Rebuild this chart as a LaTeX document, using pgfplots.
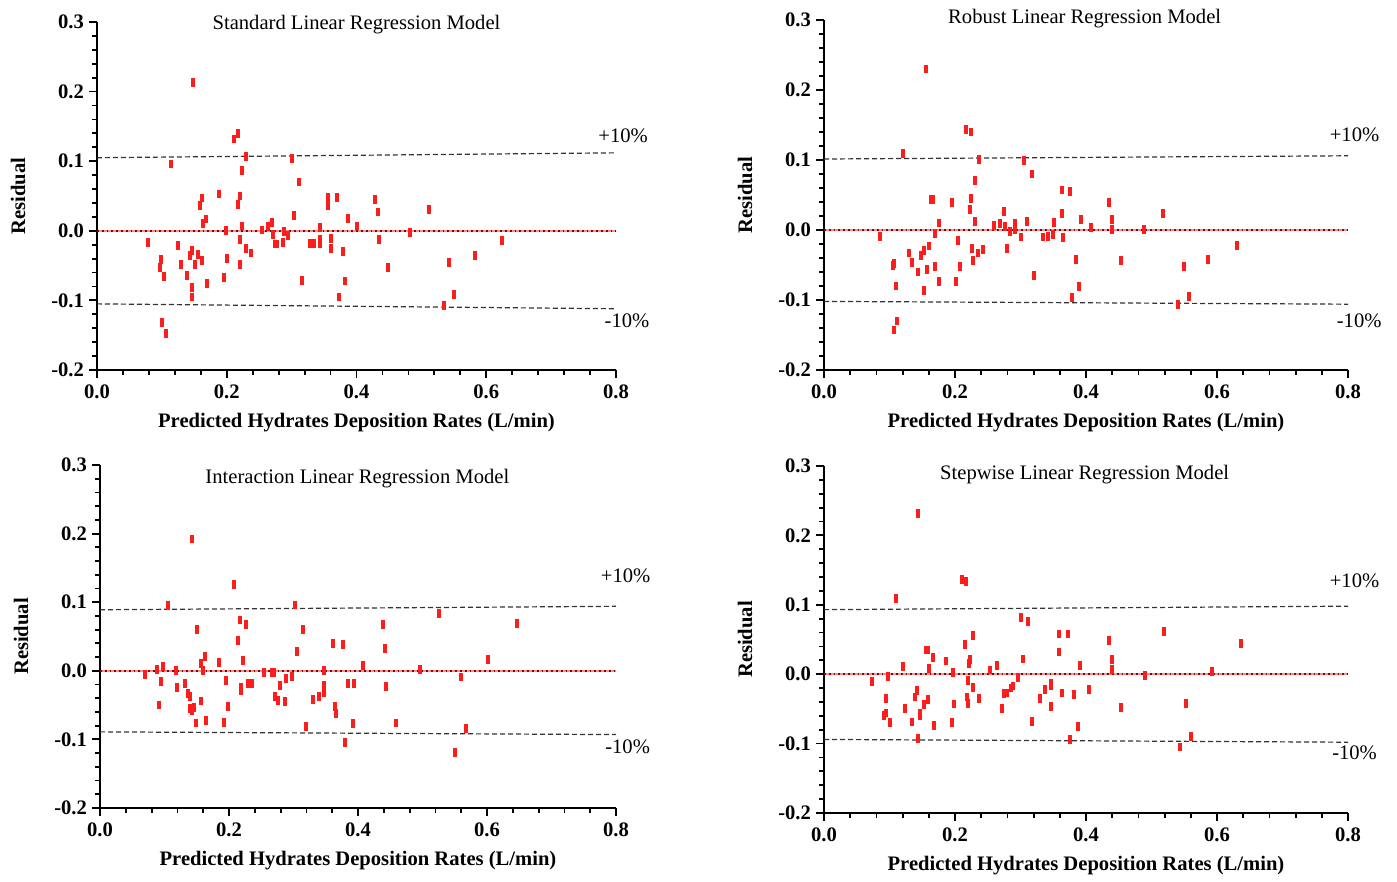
\documentclass[border=0pt]{standalone}
\usepackage{fontspec}
\setmainfont{Liberation Serif}
\usepackage{pgfplots}
\pgfplotsset{compat=1.18}
\definecolor{ptred}{RGB}{255,28,28}
\newcommand{\lab}{\fontsize{10.3}{12}\selectfont}
\pgfplotsset{
  resid/.style={
    scale only axis,
    xmin=0, xmax=0.8, ymin=-0.2, ymax=0.3,
    axis x line*=bottom, axis y line*=left,
    axis line style={line width=1pt, black},
    tick align=outside,
    major tick length=4pt, minor tick length=2.5pt,
    every tick/.style={black, line width=0.9pt},
    xtick={0,0.2,0.4,0.6,0.8},
    xticklabels={0.0,0.2,0.4,0.6,0.8},
    ytick={-0.2,-0.1,0,0.1,0.2,0.3},
    yticklabels={-0.2,-0.1,0.0,0.1,0.2,0.3},
    minor x tick num=4, minor y tick num=4,
    tick label style={font=\bfseries\lab},
    yticklabel style={xshift=1pt},
    xlabel={Predicted Hydrates Deposition Rates (L/min)},
    ylabel={Residual},
    every axis x label/.style={at={(axis description cs:0.5,0)}, yshift=-26.5pt, anchor=center, font=\bfseries\lab},
    every axis y label/.style={at={(axis description cs:0,0.5)}, xshift=-39.5pt, rotate=90, anchor=center, font=\bfseries\lab},
    clip=false,
  },
  pts/.style={only marks, mark=|, mark size=2.2pt, mark options={line width=2pt, ptred}},
  band/.style={black!80, line width=0.6pt, dash pattern=on 2.5pt off 1.5pt},
}
\newcommand{\zeroline}{%
  \addplot[red!45, line width=0.8pt] coordinates {(0,0) (0.8,0)};
  \addplot[red!55!black, line width=1pt, dash pattern=on 0.9pt off 1.5pt] coordinates {(0,0) (0.8,0)};
}
\begin{document}
\begin{tikzpicture}
\path[use as bounding box] (0,0) rectangle (698.5pt,441pt);

% ---------- Panel 1 ----------
\begin{axis}[resid, at={(48.5pt,256pt)}, anchor=south west, width=259.5pt, height=174pt]
\addplot[band] coordinates {(0,0.105) (0.8,0.112)};
\addplot[band] coordinates {(0,-0.105) (0.8,-0.112)};
\zeroline
\addplot[pts] table {
x y
0.078 -0.017
0.098 -0.041
0.097 -0.053
0.104 -0.066
0.100 -0.132
0.107 -0.147
0.114 0.096
0.125 -0.021
0.129 -0.048
0.139 -0.064
0.143 -0.036
0.147 -0.028
0.148 0.213
0.147 -0.082
0.147 -0.095
0.151 -0.048
0.155 -0.034
0.158 0.036
0.162 0.047
0.162 -0.043
0.164 0.010
0.168 0.017
0.170 -0.076
0.188 0.053
0.196 -0.067
0.199 0.000
0.201 -0.040
0.211 0.132
0.218 0.140
0.217 0.038
0.220 0.050
0.221 -0.012
0.221 -0.048
0.224 0.087
0.224 0.007
0.229 0.107
0.229 -0.026
0.238 -0.032
0.254 0.001
0.263 0.006
0.270 0.012
0.272 -0.005
0.275 -0.019
0.278 -0.019
0.286 -0.017
0.288 -0.001
0.295 -0.007
0.300 0.104
0.303 0.022
0.311 0.070
0.316 -0.071
0.328 -0.018
0.335 -0.018
0.343 -0.013
0.343 0.005
0.343 -0.018
0.356 0.048
0.356 0.036
0.360 -0.011
0.360 -0.025
0.370 0.048
0.373 -0.095
0.379 -0.030
0.383 -0.072
0.387 0.018
0.400 0.007
0.429 0.045
0.433 0.027
0.434 -0.012
0.448 -0.053
0.483 -0.003
0.511 0.031
0.535 -0.107
0.543 -0.045
0.551 -0.091
0.582 -0.036
0.624 -0.014
};
\node[font=\lab] at (axis cs:0.40,0.296) {Standard Linear Regression Model};
\node[font=\lab] at (axis cs:0.811,0.137) {+10\%};
\node[font=\lab] at (axis cs:0.817,-0.130) {-10\%};
\end{axis}

% ---------- Panel 2 ----------
\begin{axis}[resid, at={(412pt,256pt)}, anchor=south west, width=262pt, height=175pt]
\addplot[band] coordinates {(0,0.1014) (0.8,0.106)};
\addplot[band] coordinates {(0,-0.102) (0.8,-0.106)};
\zeroline
\addplot[pts] table {
x y
0.085 -0.009
0.105 -0.051
0.107 -0.048
0.110 -0.080
0.107 -0.143
0.112 -0.130
0.121 0.109
0.130 -0.033
0.134 -0.047
0.144 -0.060
0.148 -0.036
0.152 -0.029
0.153 -0.087
0.155 0.230
0.157 -0.056
0.161 -0.023
0.163 0.043
0.167 0.043
0.169 -0.052
0.169 -0.005
0.176 0.010
0.176 -0.074
0.195 0.039
0.202 -0.074
0.205 -0.015
0.207 -0.052
0.217 0.143
0.224 0.140
0.223 0.029
0.225 0.045
0.226 -0.026
0.227 -0.044
0.230 0.071
0.230 0.012
0.236 0.101
0.235 -0.033
0.243 -0.028
0.260 0.006
0.269 0.009
0.275 0.026
0.276 0.005
0.279 -0.026
0.284 -0.002
0.292 0.010
0.292 0.000
0.300 -0.010
0.306 0.099
0.310 0.012
0.317 0.080
0.321 -0.065
0.334 -0.010
0.342 -0.009
0.349 -0.007
0.351 0.011
0.363 0.057
0.363 0.024
0.365 -0.011
0.376 0.055
0.379 -0.096
0.384 -0.042
0.389 -0.081
0.393 0.015
0.407 0.003
0.435 0.039
0.439 0.015
0.440 0.001
0.454 -0.044
0.488 0.001
0.517 0.024
0.541 -0.106
0.549 -0.052
0.557 -0.095
0.586 -0.042
0.631 -0.022
};
\node[font=\lab] at (axis cs:0.398,0.302) {Robust Linear Regression Model};
\node[font=\lab] at (axis cs:0.81,0.136) {+10\%};
\node[font=\lab] at (axis cs:0.817,-0.129) {-10\%};
\end{axis}

% ---------- Panel 3 ----------
\begin{axis}[resid, at={(50pt,37pt)}, anchor=south west, width=258pt, height=171.5pt]
\addplot[band] coordinates {(0,0.089) (0.8,0.094)};
\addplot[band] coordinates {(0,-0.089) (0.8,-0.093)};
\zeroline
\addplot[pts] table {
x y
0.069 -0.005
0.088 0.002
0.091 -0.050
0.094 -0.016
0.097 0.006
0.106 0.095
0.118 0.001
0.120 -0.024
0.132 -0.019
0.137 -0.033
0.139 -0.037
0.140 -0.055
0.142 0.192
0.143 -0.058
0.145 -0.054
0.149 -0.076
0.150 0.060
0.157 -0.044
0.157 0.011
0.159 0.000
0.163 0.021
0.165 -0.073
0.184 0.012
0.193 -0.075
0.195 -0.014
0.198 -0.052
0.208 0.126
0.214 0.044
0.217 0.074
0.218 -0.029
0.219 -0.024
0.221 0.015
0.227 0.067
0.229 -0.019
0.235 -0.019
0.254 -0.003
0.266 -0.003
0.270 -0.003
0.271 -0.038
0.276 -0.043
0.279 -0.021
0.287 -0.045
0.289 -0.011
0.297 -0.008
0.303 0.096
0.306 0.028
0.314 0.060
0.319 -0.081
0.331 -0.042
0.340 -0.038
0.347 -0.021
0.347 -0.032
0.347 0.000
0.362 0.040
0.365 -0.052
0.366 -0.062
0.377 0.038
0.380 -0.104
0.385 -0.019
0.392 -0.077
0.394 -0.019
0.408 0.008
0.439 0.067
0.442 0.032
0.444 -0.023
0.459 -0.076
0.496 0.002
0.526 0.084
0.550 -0.119
0.560 -0.009
0.568 -0.084
0.601 0.017
0.647 0.069
};
\node[font=\lab] at (axis cs:0.399,0.28) {Interaction Linear Regression Model};
\node[font=\lab] at (axis cs:0.815,0.139) {+10\%};
\node[font=\lab] at (axis cs:0.818,-0.111) {-10\%};
\end{axis}

% ---------- Panel 4 ----------
\begin{axis}[resid, at={(412pt,34.5pt)}, anchor=south west, width=262pt, height=173.5pt]
\addplot[band] coordinates {(0,0.093) (0.8,0.098)};
\addplot[band] coordinates {(0,-0.094) (0.8,-0.098)};
\zeroline
\addplot[pts] table {
x y
0.073 -0.011
0.095 -0.035
0.092 -0.060
0.094 -0.056
0.101 -0.070
0.098 -0.003
0.110 0.109
0.120 0.011
0.123 -0.049
0.135 -0.069
0.139 -0.033
0.142 -0.024
0.144 0.231
0.144 -0.093
0.146 -0.060
0.147 -0.056
0.153 -0.044
0.155 0.035
0.159 0.035
0.159 -0.036
0.161 0.008
0.166 0.024
0.168 -0.074
0.186 0.019
0.195 -0.070
0.197 0.002
0.199 -0.043
0.210 0.137
0.217 0.134
0.216 0.043
0.218 -0.033
0.220 -0.009
0.220 -0.042
0.222 0.015
0.223 0.021
0.228 -0.019
0.228 0.056
0.237 -0.035
0.254 0.006
0.264 0.013
0.271 -0.049
0.275 -0.028
0.279 -0.027
0.286 -0.020
0.288 -0.017
0.296 -0.005
0.301 0.082
0.304 0.022
0.312 0.076
0.317 -0.068
0.330 -0.035
0.338 -0.022
0.346 -0.017
0.346 -0.046
0.347 -0.013
0.359 0.058
0.359 0.032
0.363 -0.027
0.373 0.058
0.376 -0.094
0.382 -0.029
0.388 -0.075
0.391 0.013
0.405 -0.022
0.435 0.049
0.439 0.021
0.440 0.007
0.454 -0.048
0.490 -0.002
0.519 0.062
0.544 -0.105
0.553 -0.042
0.561 -0.090
0.593 0.004
0.637 0.044
};
\node[font=\lab] at (axis cs:0.398,0.288) {Stepwise Linear Regression Model};
\node[font=\lab] at (axis cs:0.81,0.135) {+10\%};
\node[font=\lab] at (axis cs:0.81,-0.113) {-10\%};
\end{axis}
\end{tikzpicture}
\end{document}
